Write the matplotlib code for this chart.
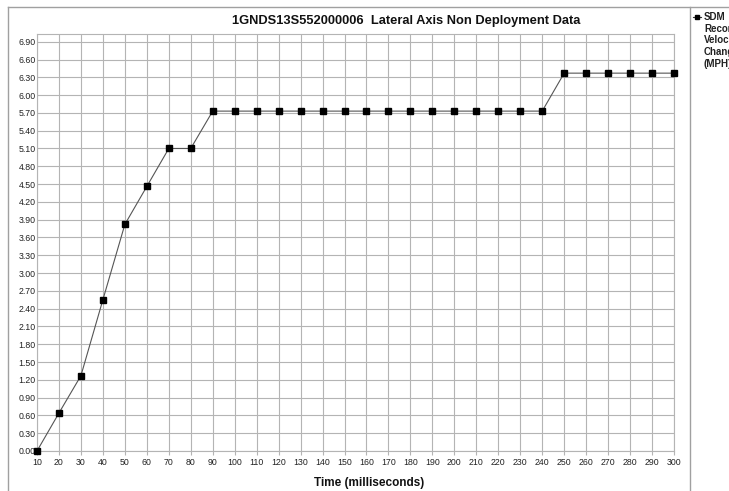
import matplotlib
matplotlib.use("Agg")
import matplotlib.pyplot as plt
from matplotlib.lines import Line2D

plt.rcParams['font.family'] = ['Liberation Sans', 'DejaVu Sans']

time_ms = [10, 20, 30, 40, 50, 60, 70, 80, 90, 100, 110, 120, 130, 140, 150,
           160, 170, 180, 190, 200, 210, 220, 230, 240, 250, 260, 270, 280, 290, 300]
velocity_mph = [0.00, 0.64, 1.27, 2.55, 3.82, 4.46, 5.10, 5.10, 5.73, 5.73, 5.73,
                5.73, 5.73, 5.73, 5.73, 5.73, 5.73, 5.73, 5.73, 5.73, 5.73, 5.73,
                5.73, 5.73, 6.37, 6.37, 6.37, 6.37, 6.37, 6.37]
x_ticks = list(range(10, 301, 10))
y_ticks = [round(0.3 * i, 2) for i in range(24)]

title = "1GNDS13S552000006  Lateral Axis Non Deployment Data"
xlabel = "Time (milliseconds)"
legend_lines = ["SDM", "Recorded", "Velocity", "Change", "(MPH)"]

W, H = 729, 491
fig = plt.figure(figsize=(W / 100, H / 100), dpi=100)

def fx(px):
    return px / W

def fy(py):
    return 1 - py / H

ax = fig.add_axes([fx(37), fy(451), fx(674) - fx(37), fy(34) - fy(451)])
ax.set_xlim(10, 300)
ax.set_ylim(0, 7.03)
ax.set_xticks(x_ticks)
ax.set_yticks(y_ticks)
ax.set_xticklabels([str(t) for t in x_ticks])
ax.set_yticklabels([f"{t:.2f}" for t in y_ticks])
ax.grid(True, color='#e2e2e2', linewidth=2.2, zorder=0)
ax.grid(True, color='#b4b4b4', linewidth=0.8, zorder=0)
ax.tick_params(axis='x', labelsize=6.3, colors='#b4b4b4', labelcolor='#222222',
               length=3, width=0.8, pad=2)
ax.tick_params(axis='y', labelsize=6.3, colors='#b4b4b4', labelcolor='#222222',
               length=0, width=0.8, pad=1)
for s in ax.spines.values():
    s.set_color('#b4b4b4')
    s.set_linewidth(0.8)

ax.plot(time_ms, velocity_mph, color='#555555', linewidth=0.8, zorder=3,
        marker='s', markersize=4.2, markerfacecolor='black', markeredgecolor='black',
        clip_on=False)

fig.text(fx(406), fy(21), title, ha='center', va='center', fontsize=9.3,
         fontweight='bold', color='#111111')
fig.text(fx(369), fy(483), xlabel, ha='center', va='center', fontsize=8.5,
         fontweight='bold', color='#111111')

# outer frame and legend separator
frame_col = '#a0a0a0'
fig.add_artist(Line2D([fx(8), 1.0], [fy(7), fy(7)], color=frame_col, linewidth=1,
                      transform=fig.transFigure))
fig.add_artist(Line2D([fx(8), fx(8)], [fy(7), 0.0], color=frame_col, linewidth=1,
                      transform=fig.transFigure))
fig.add_artist(Line2D([fx(690), fx(690)], [fy(7), 0.0], color=frame_col, linewidth=1,
                      transform=fig.transFigure))

# legend
fig.add_artist(Line2D([fx(693), fx(701)], [fy(17), fy(17)], color='#333333', linewidth=0.8,
                      transform=fig.transFigure))
fig.add_artist(Line2D([fx(697)], [fy(17)], color='black', linewidth=0,
                      marker='s', markersize=3.5, transform=fig.transFigure))
for i, t in enumerate(legend_lines):
    fig.text(fx(704), fy(17 + i * 11.7), t, ha='left', va='center', fontsize=7,
             fontweight='bold', color='#222222')

fig.savefig("out.png", dpi=100)
